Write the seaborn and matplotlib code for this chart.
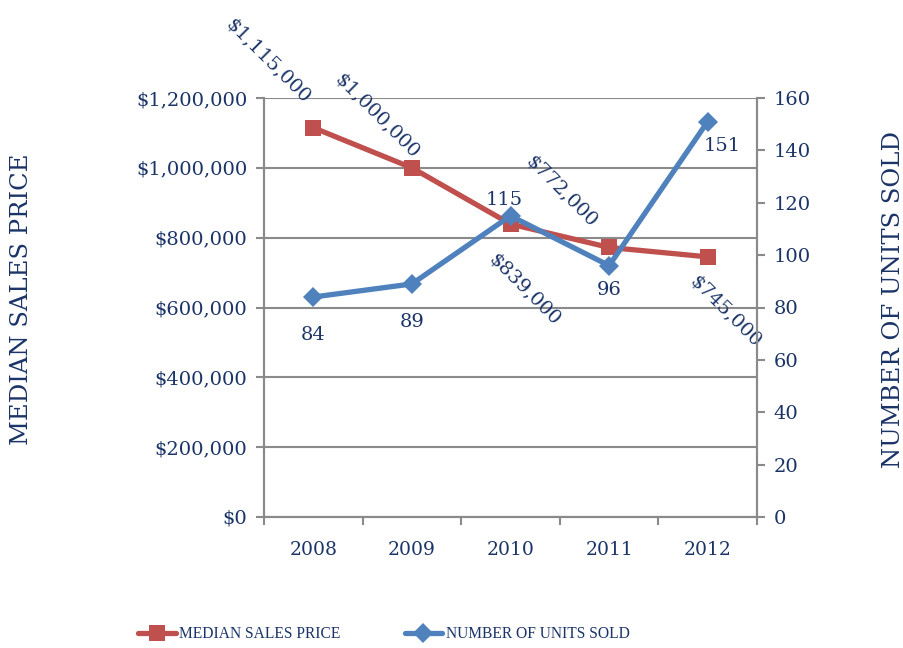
import numpy as np
import pandas as pd
import matplotlib
matplotlib.use("Agg")
import matplotlib.pyplot as plt
import seaborn as sns

years = ["2008", "2009", "2010", "2011", "2012"]
median_price = [1115000, 1000000, 839000, 772000, 745000]
units_sold = [84, 89, 115, 96, 151]
price_labels = ["$1,115,000", "$1,000,000", "$839,000", "$772,000", "$745,000"]
units_labels = ["84", "89", "115", "96", "151"]
left_ticks = [0, 200000, 400000, 600000, 800000, 1000000, 1200000]
right_ticks = [0, 20, 40, 60, 80, 100, 120, 140, 160]

sns.set_style("white")
plt.rcParams["font.family"] = ["DejaVu Serif"]

TXT = "#1B3468"
GRID = "#8A8A8A"
RED = "#C0504D"
BLUE = "#4F81BD"

df = pd.DataFrame({"pos": np.arange(len(years)), "price": median_price, "units": units_sold})

fig = plt.figure(figsize=(9.04, 6.48), dpi=100)
ax = fig.add_axes([264/904, 1-517/648, (757-264)/904, (517-98)/648])
ax2 = ax.twinx()

sns.lineplot(data=df, x="pos", y="price", ax=ax, color=RED, marker="s", markersize=12,
             markeredgewidth=0, linewidth=3.8, legend=False, zorder=3)
sns.lineplot(data=df, x="pos", y="units", ax=ax2, color=BLUE, marker="D", markersize=10,
             markeredgewidth=0, linewidth=3.8, legend=False, zorder=3)

ax.set_xlim(-0.5, 4.5)
ax.set_ylim(0, 1200000)
ax2.set_ylim(0, 160)

ax.set_yticks(left_ticks)
ax.set_yticklabels(["${:,}".format(v) for v in left_ticks])
ax2.set_yticks(right_ticks)
ax2.set_yticklabels([str(v) for v in right_ticks])

ax.set_xticks(np.arange(-0.5, 5, 1))
ax.set_xticklabels([""] * 6)
ax.set_xticks(np.arange(len(years)), minor=True)
ax.set_xticklabels(years, minor=True)
ax.tick_params(axis="x", which="major", length=6, width=1.5, color=GRID, direction="out", bottom=True)
ax.tick_params(axis="x", which="minor", length=0, pad=17, labelsize=13.5, labelcolor=TXT)
ax.tick_params(axis="y", length=6, width=1.5, color=GRID, direction="out", left=True, pad=6,
               labelsize=14, labelcolor=TXT)
ax2.tick_params(axis="y", length=6, width=1.5, color=GRID, direction="out", right=True, pad=6,
                labelsize=14, labelcolor=TXT)

ax.grid(axis="y", color=GRID, linewidth=1.5)
ax.grid(axis="x", visible=False)
ax2.grid(False)
for a in (ax, ax2):
    a.spines["top"].set_visible(False)
    for s in ("left", "right", "bottom"):
        a.spines[s].set_color(GRID)
        a.spines[s].set_linewidth(1.5)
ax.set_xlabel("")
ax.set_ylabel("MEDIAN SALES PRICE", fontsize=17.5, color=TXT)
ax2.set_ylabel("NUMBER OF UNITS SOLD", fontsize=17.5, color=TXT, rotation=90)
ax.yaxis.set_label_coords((33-264)/493, (517-299)/419)
ax2.yaxis.set_label_coords((882-264)/493, (517-299)/419)

price_off = [(-45, 67), (-35, 52), (14, -65), (-48, 56), (18, -55)]
for i, (lab, off) in enumerate(zip(price_labels, price_off)):
    ax.annotate(lab, (i, median_price[i]), xytext=off, textcoords="offset pixels",
                rotation=-45, ha="center", va="center", rotation_mode="anchor",
                fontsize=14, color=TXT, zorder=5)

units_off = [(0, -38), (0, -38), (-6, 16), (0, -24), (14, -24)]
for i, (lab, off) in enumerate(zip(units_labels, units_off)):
    ax2.annotate(lab, (i, units_sold[i]), xytext=off, textcoords="offset pixels",
                 ha="center", va="center", fontsize=14, color=TXT, zorder=5)

handles = [ax.lines[0], ax2.lines[0]]
leg = fig.legend(handles, ["MEDIAN SALES PRICE", "NUMBER OF UNITS SOLD"], loc="center",
                 bbox_to_anchor=(384/904, 1-634/648), ncol=2, frameon=False,
                 prop={"family": ["Liberation Serif"], "size": 11.2},
                 handlelength=2.4, handletextpad=0.25, columnspacing=4.1)
for t in leg.get_texts():
    t.set_color(TXT)

fig.savefig("out.png", dpi=100)
